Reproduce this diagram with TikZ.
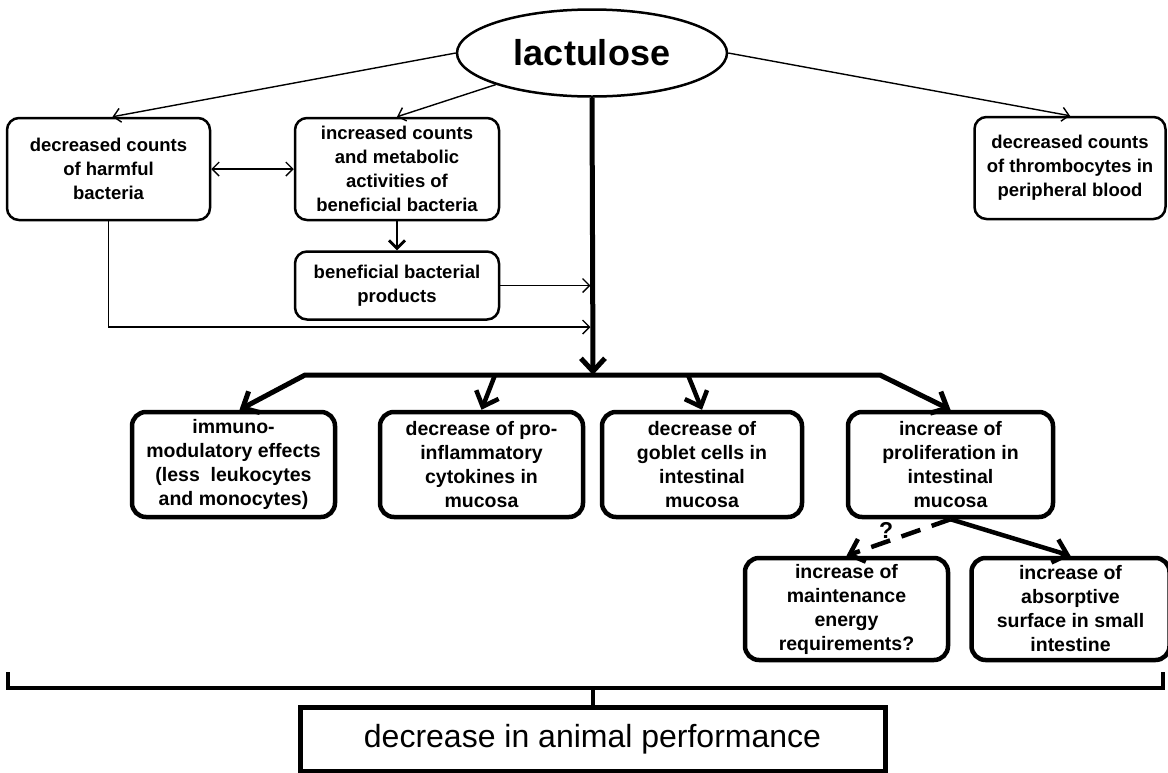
\documentclass[tikz,border=0pt]{standalone}
\usepackage{fontspec}
\setmainfont{Liberation Sans}
\usepackage{tikz}
\usetikzlibrary{shapes.geometric, arrows.meta, positioning, calc}

\begin{document}
\begin{tikzpicture}[
  x=1pt, y=-1pt,
  every node/.style={font=\fontsize{18.5}{24}\selectfont\bfseries, align=center, inner sep=2pt},
  tb/.style={rectangle, rounded corners=12pt, draw, line width=2.5pt, minimum height=102pt},
  mb/.style={rectangle, rounded corners=14pt, draw, line width=4.5pt, minimum height=105pt,
             font=\fontsize{19.5}{24}\selectfont\bfseries},
  fine/.style={-{Straight Barb[length=7pt,width=14pt]}, line width=1.4pt},
  fineboth/.style={{Straight Barb[length=7pt,width=14pt]}-{Straight Barb[length=7pt,width=14pt]}, line width=1.4pt},
  fat/.style={-{Straight Barb[length=13pt,width=24pt]}, line width=4.5pt},
  fatboth/.style={{Straight Barb[length=13pt,width=24pt]}-{Straight Barb[length=13pt,width=24pt]},
                  line width=5pt, line join=round},
]
\fill[white] (0,0) rectangle (1168,772);
\useasboundingbox (0,0) rectangle (1168,772);

% source
\node[ellipse, draw, line width=2.5pt, minimum width=270pt, minimum height=87pt, inner sep=0pt,
      font=\fontsize{36}{40}\selectfont\bfseries] (ell) at (592,53) {lactulose};

% microbial effects
\node[tb, minimum width=203pt] (harm)   at (108.5,169) {decreased counts\\of harmful\\bacteria};
\node[tb, minimum width=204pt] (benef)  at (397,169)   {increased counts\\and metabolic\\activities of\\beneficial bacteria};
\node[tb, minimum width=191pt] (thromb) at (1070,168)  {decreased counts\\of thrombocytes in\\peripheral blood};
\node[tb, minimum width=204pt, minimum height=68pt, below=29pt of benef] (prod) {beneficial bacterial\\products};

% host effects
\node[mb, minimum width=203pt] (immuno) at (233.5,464.5) {immuno-\\modulatory effects\\(less\ \ leukocytes\\and monocytes)};
\node[mb, minimum width=203pt] (proinf) at (481.5,464.5) {decrease of pro-\\inflammatory\\cytokines in\\mucosa};
\node[mb, minimum width=200pt] (goblet) at (702,464.5)   {decrease of\\goblet cells in\\intestinal\\mucosa};
\node[mb, minimum width=205pt] (prolif) at (950.5,464.5) {increase of\\proliferation in\\intestinal\\mucosa};
\node[mb, minimum width=203pt, minimum height=102pt] (maint) at (846.5,609) {increase of\\maintenance\\energy\\requirements?};
\node[mb, minimum width=198pt, minimum height=102pt, right=19pt of maint] (absorp) {increase of\\absorptive\\surface in small\\intestine};

% outcome
\node[rectangle, draw, line width=5pt, minimum width=585pt, minimum height=64pt,
      font=\fontsize{32}{36}\selectfont] (perf) at (592.5,739) {decrease in animal performance};

\coordinate (hub)  at (593,375);
\coordinate (j2)   at (593,327);
\coordinate (busL) at (305,375);
\coordinate (busR) at (880,375);
\coordinate (b1)   at (495,375);
\coordinate (b2)   at (688,375);
\coordinate (brL)  at (8,672);
\coordinate (brR)  at (1163,672);
\coordinate (brM)  at (592.5,688);

\draw[fine] (ell.west) -- ($(harm.north)+(4,0)$);
\draw[fine] (ell.south west) -- (benef.north);
\draw[fine] (ell.east) -- (thromb.north);
\draw[fineboth] (harm.east) -- (benef.west);
\draw[-{Straight Barb[length=8pt,width=16pt]}, line width=2.8pt] (benef.south) -- (prod.north);
\draw[fine, shorten >=2.5pt] (prod.east) -- (prod.east -| hub);
\draw[fine, shorten >=2.5pt] (harm.south) |- (j2);
\draw[fat, line width=5pt] (ell.south) -- (hub);

\draw[fatboth] ($(immuno.north)+(6,0)$) -- (busL) -- (busR) -- (prolif.north);
\draw[fat] (b1) -- (proinf.north);
\draw[fat] (b2) -- (goblet.north);
\draw[fat, dash pattern=on 20pt off 12pt] (prolif.south) -- node[above, pos=0.62, inner sep=1pt, font=\fontsize{23}{26}\selectfont\bfseries] {?} (maint.north);
\draw[fat] (prolif.south) -- (absorp.north);

\draw[line width=4pt] (brL) |- (brM -| brR) -- (brR);
\draw[line width=4pt] (brM) -- (perf.north);
\end{tikzpicture}
\end{document}
